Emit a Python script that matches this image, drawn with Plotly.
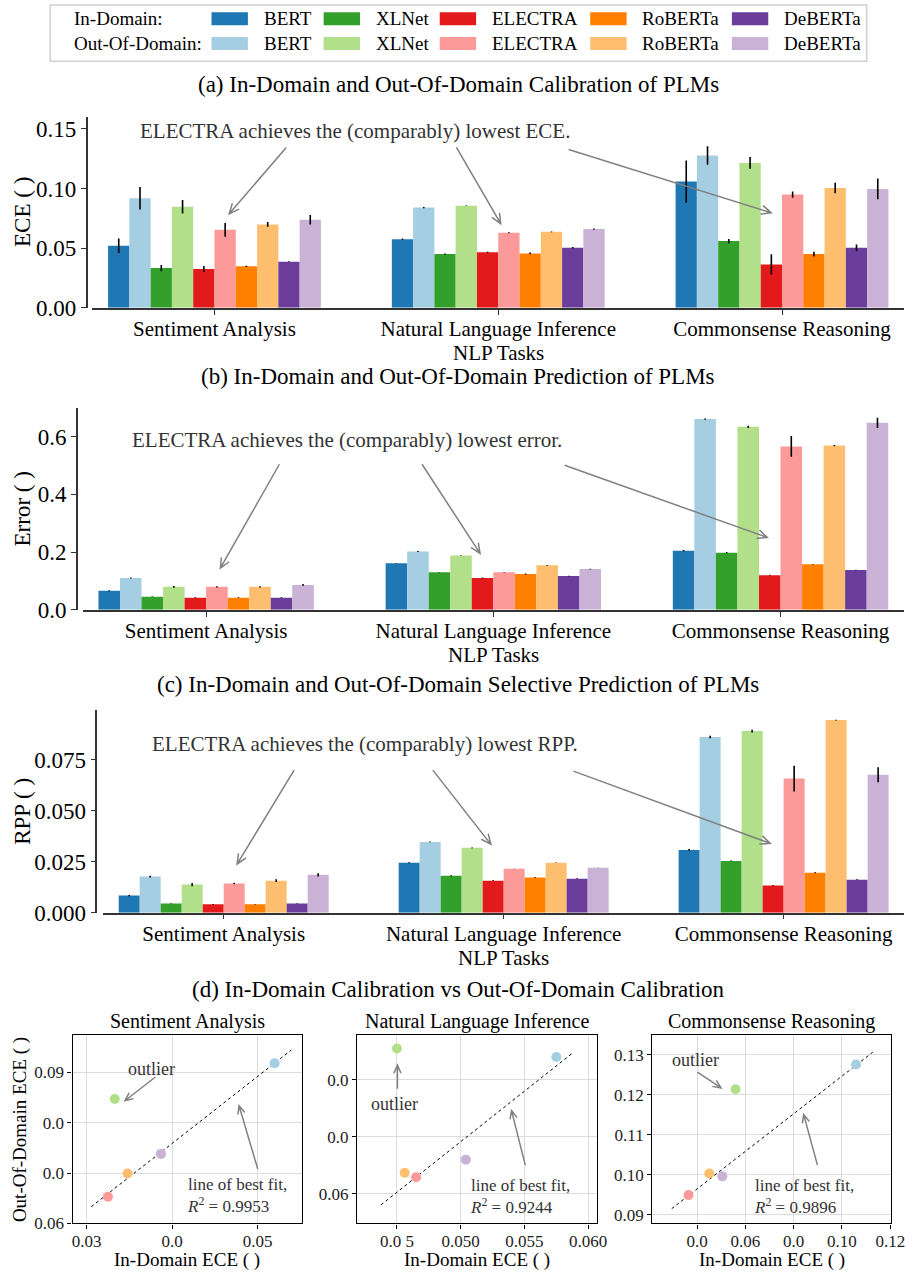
import numpy as np
import plotly.graph_objects as go

W, H = 919, 1283
FONT = "Liberation Serif"

TASKS = ["Sentiment Analysis", "Natural Language Inference", "Commonsense Reasoning"]
MODELS = ["BERT", "XLNet", "ELECTRA", "RoBERTa", "DeBERTa"]
ID_COLORS = ["#1f78b4", "#33a02c", "#e31a1c", "#ff7f00", "#6a3d9a"]
OOD_COLORS = ["#a6cee3", "#b2df8a", "#fb9a99", "#fdbf6f", "#cab2d6"]

# (a) ECE, rows = models, cols = tasks
ECE_ID = [[0.0520, 0.0575, 0.1058],
          [0.0333, 0.0450, 0.0559],
          [0.0325, 0.0465, 0.0364],
          [0.0348, 0.0456, 0.0450],
          [0.0387, 0.0504, 0.0504]]
ECE_ID_ERR = [[0.0060, 0.0005, 0.0177],
              [0.0026, 0.0005, 0.0018],
              [0.0025, 0.0005, 0.0084],
              [0.0005, 0.0007, 0.0020],
              [0.0003, 0.0005, 0.0027]]
ECE_OOD = [[0.0918, 0.0840, 0.1276],
           [0.0847, 0.0855, 0.1214],
           [0.0653, 0.0629, 0.0949],
           [0.0699, 0.0637, 0.1003],
           [0.0738, 0.0660, 0.0996]]
ECE_OOD_ERR = [[0.0094, 0.0005, 0.0078],
               [0.0057, 0.0003, 0.0050],
               [0.0058, 0.0005, 0.0026],
               [0.0020, 0.0003, 0.0044],
               [0.0039, 0.0005, 0.0087]]

# (b) Error
ERR_ID = [[0.0658, 0.161, 0.205],
          [0.0454, 0.130, 0.198],
          [0.0420, 0.110, 0.120],
          [0.0420, 0.124, 0.158],
          [0.0420, 0.117, 0.138]]
ERR_ID_ERR = [[0.002, 0.001, 0.002],
              [0.001, 0.001, 0.002],
              [0.001, 0.002, 0.001],
              [0.001, 0.002, 0.001],
              [0.001, 0.001, 0.001]]
ERR_OOD = [[0.110, 0.202, 0.661],
           [0.0794, 0.188, 0.634],
           [0.0794, 0.130, 0.566],
           [0.0794, 0.154, 0.569],
           [0.0862, 0.141, 0.648]]
ERR_OOD_ERR = [[0.002, 0.002, 0.002],
               [0.003, 0.001, 0.004],
               [0.002, 0.001, 0.036],
               [0.002, 0.001, 0.002],
               [0.003, 0.001, 0.018]]

# (c) RPP
RPP_ID = [[0.0084, 0.0245, 0.0308],
          [0.0045, 0.0181, 0.0254],
          [0.0041, 0.0157, 0.0133],
          [0.0041, 0.0172, 0.0196],
          [0.0045, 0.0167, 0.0162]]
RPP_ID_ERR = [[0.0003, 0.0002, 0.0004],
              [0.0001, 0.0002, 0.0002],
              [0.0002, 0.0002, 0.0002],
              [0.0001, 0.0002, 0.0002],
              [0.0001, 0.0002, 0.0002]]
RPP_OOD = [[0.0177, 0.0347, 0.0862],
           [0.0138, 0.0318, 0.0891],
           [0.0143, 0.0215, 0.0658],
           [0.0157, 0.0245, 0.0945],
           [0.0186, 0.0220, 0.0677]]
RPP_OOD_ERR = [[0.0004, 0.0002, 0.0006],
               [0.0008, 0.0002, 0.0007],
               [0.0004, 0.0001, 0.0063],
               [0.0007, 0.0001, 0.0002],
               [0.0008, 0.0001, 0.0037]]

OUTLIER = "XLNet"
R2_TEXT = ["0.9953", "0.9244", "0.9896"]

# scatter tick values / labels (as printed in the reference)
SC_X_TICKS = [[0.03, 0.04, 0.05], [0.045, 0.050, 0.055, 0.060], [0.04, 0.06, 0.08, 0.10, 0.12]]
SC_X_LABELS = [["0.03", "0.0", "0.05"], ["0.0 5", "0.050", "0.055", "0.060"], ["0.0", "0.06", "0.0", "0.10", "0.12"]]
SC_Y_TICKS = [[0.06, 0.07, 0.08, 0.09], [0.06, 0.07, 0.08], [0.09, 0.10, 0.11, 0.12, 0.13]]
SC_Y_LABELS = [["0.06", "0.0", "0.0", "0.09"], ["0.06", "0.0", "0.0"], ["0.09", "0.10", "0.11", "0.12", "0.13"]]


def px(x):
    return x / W


def py(y):
    return 1 - y / H


fig = go.Figure()
shapes = []
annotations = []


def text(x, y, s, size, color="black", xanchor="center", yanchor="middle", angle=0, align="center"):
    annotations.append(dict(x=px(x), y=py(y), xref="paper", yref="paper", text=s, showarrow=False,
                            xanchor=xanchor, yanchor=yanchor, textangle=angle, align=align,
                            font=dict(family=FONT, size=size, color=color)))


def arrow(tail, head, hl=11, ang=24, color="#808080", width=1.5):
    tx, ty = tail
    hx, hy = head
    d = np.array([tx - hx, ty - hy], dtype=float)
    d /= np.hypot(*d)
    pts = []
    for s in (1, -1):
        a = np.radians(ang * s)
        r = np.array([d[0] * np.cos(a) - d[1] * np.sin(a), d[0] * np.sin(a) + d[1] * np.cos(a)])
        pts.append((hx + hl * r[0], hy + hl * r[1]))
    path = (f"M {px(tx)},{py(ty)} L {px(hx)},{py(hy)} "
            f"M {px(pts[0][0])},{py(pts[0][1])} L {px(hx)},{py(hy)} L {px(pts[1][0])},{py(pts[1][1])}")
    shapes.append(dict(type="path", path=path, xref="paper", yref="paper",
                       line=dict(color=color, width=width)))


# ---------------- Legend ----------------
shapes.append(dict(type="rect", xref="paper", yref="paper", x0=px(50), x1=px(880), y0=py(62), y1=py(5),
                   line=dict(color="#d0d0d0", width=1.5), fillcolor="white", layer="below"))
text(72, 19, "In-Domain:", 19, xanchor="left")
text(72, 44, "Out-Of-Domain:", 19, xanchor="left")
SW_X = [214, 328, 446, 599, 743]
for i, m in enumerate(MODELS):
    for row, cols in ((0, ID_COLORS), (1, OOD_COLORS)):
        yc = 19 + 25 * row
        shapes.append(dict(type="rect", xref="paper", yref="paper", x0=px(SW_X[i]), x1=px(SW_X[i] + 37),
                           y0=py(yc + 6.5), y1=py(yc - 6.5), line=dict(width=0), fillcolor=cols[i]))
        text(SW_X[i] + 51, yc, m, 19, xanchor="left")

# ---------------- Bar panels ----------------
panels = [
    dict(ax="", title="(a) In-Domain and Out-Of-Domain Calibration of PLMs", ty=85,
         id=ECE_ID, ide=ECE_ID_ERR, ood=ECE_OOD, oode=ECE_OOD_ERR,
         x0=93, spine=87, top=118, bot=311, yr=[0, 0.16], tv=[0, 0.05, 0.10, 0.15], tf=".2f",
         ylab="ECE ( )", ylx=22, note="ELECTRA achieves the (comparably) lowest ECE.", nx=360, ny=132,
         nlpy=357,
         arrows=[((290, 149), (232, 216)), ((463, 149), (508, 226)), ((577, 151), (783, 215))]),
    dict(ax="2", title="(b) In-Domain and Out-Of-Domain Prediction of PLMs", ty=380,
         id=ERR_ID, ide=ERR_ID_ERR, ood=ERR_OOD, oode=ERR_OOD_ERR,
         x0=83, spine=77, top=412, bot=616, yr=[0, 0.70], tv=[0, 0.2, 0.4, 0.6], tf=".1f",
         ylab="Error ( )", ylx=22, note="ELECTRA achieves the (comparably) lowest error.", nx=352, ny=445,
         nlpy=662,
         arrows=[((283, 469), (223, 574)), ((428, 469), (487, 559)), ((573, 470), (779, 543))]),
    dict(ax="3", title="(c) In-Domain and Out-Of-Domain Selective Prediction of PLMs", ty=692,
         id=RPP_ID, ide=RPP_ID_ERR, ood=RPP_OOD, oode=RPP_OOD_ERR,
         x0=104, spine=97, top=717, bot=922, yr=[0, 0.0996], tv=[0, 0.025, 0.05, 0.075], tf=".3f",
         ylab="RPP ( )", ylx=22, note="ELECTRA achieves the (comparably) lowest RPP.", nx=370, ny=752,
         nlpy=968,
         arrows=[((298, 778), (240, 873)), ((439, 778), (498, 853)), ((582, 779), (782, 852))]),
]

layout_axes = {}
for p in panels:
    xa, ya = "x" + p["ax"], "y" + p["ax"]
    for i, m in enumerate(MODELS):
        for vals, errs, cols, dom in ((p["id"], p["ide"], ID_COLORS, "ID"), (p["ood"], p["oode"], OOD_COLORS, "OOD")):
            fig.add_trace(go.Bar(x=TASKS, y=vals[i], marker=dict(color=cols[i], line=dict(width=0)),
                                 error_y=dict(type="data", array=errs[i], color="black", thickness=1.6, width=0),
                                 xaxis=xa, yaxis=ya, showlegend=False, name=f"{m} {dom}"))
    layout_axes["xaxis" + p["ax"]] = dict(
        domain=[px(p["x0"]), px(918)], anchor=ya, type="category", range=[-0.43, 2.43],
        showline=True, linecolor="#333", linewidth=1.5, ticks="outside", ticklen=5, tickcolor="#333",
        ticklabelstandoff=-4,
        tickfont=dict(family=FONT, size=21, color="black"), showgrid=False, zeroline=False)
    layout_axes["yaxis" + p["ax"]] = dict(
        domain=[py(p["bot"]), py(p["top"])], anchor="free", position=px(p["spine"]), range=p["yr"],
        showline=True, linecolor="#333", linewidth=1.5, ticks="outside", ticklen=5, tickcolor="#333",
        tickvals=p["tv"], tickformat=p["tf"], tickfont=dict(family=FONT, size=23, color="black"),
        showgrid=False, zeroline=False)
    text(465, p["ty"], p["title"], 23)
    text(p["ylx"], (p["top"] + p["bot"]) / 2, p["ylab"], 23, angle=-90)
    text((p["x0"] + 918) / 2, p["nlpy"], "NLP Tasks", 21)
    text(p["nx"], p["ny"], p["note"], 21, color="#333")
    for t, h in p["arrows"]:
        arrow(t, h)

# ---------------- Scatter panels ----------------
text(465, 1000, "(d) In-Domain Calibration vs Out-Of-Domain Calibration", 23)
SC_DOM = [(72.7, 306), (362, 606), (662, 905)]
SC_XR = [[0.02836, 0.0552], [0.04187, 0.0607], [0.02135, 0.1204]]
SC_YR = [[0.06, 0.0973], [0.0548, 0.0878], [0.0878, 0.1349]]
SC_NOTES = [
    dict(o=(153, 1080), oa=((157, 1088), (126, 1112)), l=(187, 1208), la=((261, 1181), (242, 1117))),
    dict(o=(400, 1115), oa=((403, 1100), (403, 1076)), l=(475, 1209), la=((533, 1177), (519, 1122))),
    dict(o=(706, 1071), oa=((708, 1083), (732, 1099)), l=(763, 1209), la=((830, 1177), (816, 1126))),
]
idv = np.array(ECE_ID)
oodv = np.array(ECE_OOD)
keep = np.array([m != OUTLIER for m in MODELS])
for t in range(3):
    k = str(4 + t)
    xa, ya = "x" + k, "y" + k
    xs, ys = idv[:, t], oodv[:, t]
    slope, inter = np.polyfit(xs[keep], ys[keep], 1)
    rng = xs.max() - xs.min()
    lx = np.array([xs.min() - 0.1 * rng, xs.max() + 0.1 * rng])
    fig.add_trace(go.Scatter(x=lx, y=slope * lx + inter, mode="lines",
                             line=dict(color="black", width=1, dash="dot"),
                             xaxis=xa, yaxis=ya, showlegend=False, hoverinfo="skip"))
    fig.add_trace(go.Scatter(x=xs, y=ys, mode="markers", text=MODELS,
                             marker=dict(color=OOD_COLORS, size=10, line=dict(width=0)),
                             xaxis=xa, yaxis=ya, showlegend=False))
    d0, d1 = SC_DOM[t]
    layout_axes["xaxis" + k] = dict(
        domain=[px(d0), px(d1)], anchor=ya, range=SC_XR[t], tickvals=SC_X_TICKS[t], ticktext=SC_X_LABELS[t],
        showline=True, mirror=True, linecolor="black", linewidth=1.3, ticks="outside", ticklen=4,
        ticklabelstandoff=-2,
        tickcolor="black", showgrid=True, gridcolor="#dcdcdc", gridwidth=1, zeroline=False,
        tickfont=dict(family=FONT, size=17, color="#222"))
    layout_axes["yaxis" + k] = dict(
        domain=[py(1236), py(1046)], anchor=xa, range=SC_YR[t], tickvals=SC_Y_TICKS[t], ticktext=SC_Y_LABELS[t],
        showline=True, mirror=True, linecolor="black", linewidth=1.3, ticks="outside", ticklen=4,
        tickcolor="black", showgrid=True, gridcolor="#dcdcdc", gridwidth=1, zeroline=False,
        tickfont=dict(family=FONT, size=17, color="#222"))
    text((d0 + d1) / 2, 1032, TASKS[t], 20)
    text((d0 + d1) / 2, 1273, "In-Domain ECE ( )", 19)
    n = SC_NOTES[t]
    text(n["o"][0], n["o"][1], "outlier", 18, color="#333")
    arrow(*n["oa"], hl=9)
    text(n["l"][0], n["l"][1], f"line of best fit,<br><i>R</i><sup>2</sup> = {R2_TEXT[t]}", 17,
         color="#333", xanchor="left", align="left")
    arrow(*n["la"], hl=9)
text(20, 1141, "Out-Of-Domain ECE ( )", 19, angle=-90)

fig.update_layout(
    width=W, height=H, margin=dict(l=0, r=0, t=0, b=0), paper_bgcolor="white", plot_bgcolor="white",
    barmode="group", bargap=0.25, bargroupgap=0, showlegend=False,
    font=dict(family=FONT, color="black"), shapes=shapes, annotations=annotations, **layout_axes)

fig.write_html(
    "out.html",
    config={"displayModeBar": False},
    post_script="document.documentElement.style.margin='0px';document.body.style.margin='0px';",
)
